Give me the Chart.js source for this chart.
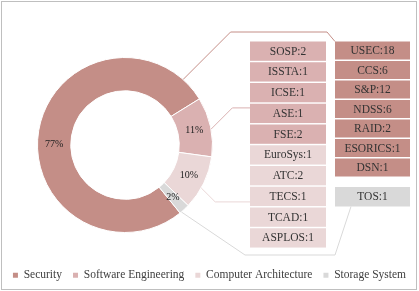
<!DOCTYPE html>
<html>
<head>
<meta charset="utf-8">
<script src="https://cdn.jsdelivr.net/npm/chart.js@4.4.1/dist/chart.umd.min.js"></script>
<style>
  html, body { margin: 0; padding: 0; background: #fff; }
  #wrap { width: 419px; height: 291px; }
</style>
</head>
<body>
<div id="wrap"><canvas id="venueChart" width="419" height="291"></canvas></div>
<script>
// share of papers per field (percent, as printed on the ring)
const categories = ["Security", "Software Engineering", "Computer Architecture", "Storage System"];
const shares = [77, 11, 10, 2];

// venues behind each field, with paper counts
const securityVenues = ["USEC", "CCS", "S&P", "NDSS", "RAID", "ESORICS", "DSN"];
const securityCounts = [18, 6, 12, 6, 2, 1, 1];
const seVenues = ["SOSP", "ISSTA", "ICSE", "ASE", "FSE"];
const seCounts = [2, 1, 1, 1, 2];
const archVenues = ["EuroSys", "ATC", "TECS", "TCAD", "ASPLOS"];
const archCounts = [1, 2, 1, 1, 1];
const storageVenues = ["TOS"];
const storageCounts = [1];

const colors = ["#c48e87", "#dab1b1", "#ead7d7", "#d9d9d9"];
const serif = "'Liberation Serif', 'Times New Roman', serif";

// where along each slice the % label and the leader line sit (0..1)
const labelAt = [0.466, 0.5, 0.5, 0.5];
const leaderAt = [0.94, 0.54, 0.6, 0.85];

// empty layout boxes: push the ring to the left, leave room for the venue panel
function sideBox(position, size) {
  return {
    position: position, options: {}, weight: 0, fullSize: false,
    left: 0, top: 0, right: 0, bottom: 0, width: size, height: 0,
    isHorizontal() { return false; },
    update(maxW, maxH) { this.width = size; this.height = maxH; },
    draw() {}
  };
}

function arcPoint(arc, frac, r) {
  const a = arc.startAngle + (arc.endAngle - arc.startAngle) * frac;
  return { x: arc.x + r * Math.cos(a), y: arc.y + r * Math.sin(a) };
}

function polyline(ctx, pts, color) {
  ctx.beginPath();
  ctx.moveTo(pts[0].x, pts[0].y);
  for (let i = 1; i < pts.length; i++) ctx.lineTo(pts[i].x, pts[i].y);
  ctx.strokeStyle = color;
  ctx.lineWidth = 1;
  ctx.stroke();
}

function venueBox(ctx, x, y, w, h, fill, text) {
  ctx.fillStyle = fill;
  ctx.fillRect(x, y, w, h);
  ctx.fillStyle = "#333";
  ctx.fillText(text, x + w / 2, y + h / 2 + 0.5);
}

const venuePanel = {
  id: "venuePanel",
  beforeInit(chart) {
    chart.$leftBox = sideBox("left", 37);
    chart.$rightBox = sideBox("right", 206);
    Chart.layouts.addBox(chart, chart.$leftBox);
    Chart.layouts.addBox(chart, chart.$rightBox);
  },
  afterDatasetsDraw(chart) {
    const ctx = chart.ctx;
    const arcs = chart.getDatasetMeta(0).data;
    ctx.save();
    ctx.font = "10px " + serif;
    ctx.fillStyle = "#222";
    ctx.textAlign = "center";
    ctx.textBaseline = "middle";
    arcs.forEach((arc, i) => {
      const p = arcPoint(arc, labelAt[i], (arc.innerRadius + arc.outerRadius) / 2);
      ctx.fillText(shares[i] + "%", p.x, p.y);
    });
    ctx.restore();
  },
  afterDraw(chart) {
    const ctx = chart.ctx;
    const arcs = chart.getDatasetMeta(0).data;
    const px = chart.$rightBox.left;
    const col1 = px + 37, col2 = px + 122;
    const w1 = 76, w2 = 75;
    const top = 41.5;
    const pitch1 = 20.75, h1 = 19.3;
    const pitch2 = 19.5, h2 = 18;
    const row1 = (k) => top + k * pitch1;

    ctx.save();
    // leader lines
    const s = arcPoint(arcs[0], leaderAt[0], arcs[0].outerRadius);
    const sy = top - 9.5;
    polyline(ctx, [s, { x: s.x + (s.y - sy), y: sy }, { x: col2 - 8, y: sy }, { x: col2, y: top }], colors[0]);

    const e = arcPoint(arcs[1], leaderAt[1], arcs[1].outerRadius);
    const ey = row1(3.2);
    polyline(ctx, [e, { x: e.x + (e.y - ey), y: ey }, { x: col1, y: ey }], colors[1]);

    const a = arcPoint(arcs[2], leaderAt[2], arcs[2].outerRadius);
    const ay = row1(7.73);
    polyline(ctx, [a, { x: a.x + (ay - a.y), y: ay }, { x: col1, y: ay }], colors[2]);

    const tosTop = top + securityVenues.length * pitch2 + 9;
    const t = arcPoint(arcs[3], leaderAt[3], arcs[3].outerRadius);
    const ty = row1(10) + 6;
    polyline(ctx, [t, { x: col1 - 5, y: ty }, { x: col2, y: ty }, { x: col2 + 16, y: tosTop + h2 + 1.5 }], colors[3]);

    // venue boxes
    ctx.font = "11.5px " + serif;
    ctx.textAlign = "center";
    ctx.textBaseline = "middle";
    seVenues.forEach((v, k) => venueBox(ctx, col1, row1(k), w1, h1, colors[1], v + ":" + seCounts[k]));
    archVenues.forEach((v, k) => venueBox(ctx, col1, row1(k + seVenues.length), w1, h1, colors[2], v + ":" + archCounts[k]));
    securityVenues.forEach((v, k) => venueBox(ctx, col2, top + k * pitch2, w2, h2, colors[0], v + ":" + securityCounts[k]));
    storageVenues.forEach((v, k) => venueBox(ctx, col2, tosTop + k * pitch2, w2, h2 + 1.5, colors[3], v + ":" + storageCounts[k]));

    // outer frame
    ctx.strokeStyle = "#bfbfbf";
    ctx.lineWidth = 1;
    ctx.strokeRect(1.5, 1.5, 415, 288);
    ctx.restore();
  }
};

new Chart(document.getElementById("venueChart"), {
  type: "doughnut",
  data: {
    labels: categories,
    datasets: [
      {
        data: shares,
        backgroundColor: colors,
        borderColor: "#fff",
        borderWidth: 1,
      },
    ],
  },
  options: {
    responsive: false,
    animation: false,
    devicePixelRatio: 1,
    rotation: 141,
    cutout: "62%",
    layout: { padding: { top: 31.5, bottom: 0 } },
    plugins: {
      legend: {
        position: "bottom",
        labels: {
          boxWidth: 5,
          boxHeight: 5,
          padding: 11,
          color: "#404040",
          font: { family: serif, size: 11.5 },
          generateLabels(chart) {
            const items = Chart.overrides.doughnut.plugins.legend.labels.generateLabels(chart);
            items.forEach((it) => { it.lineWidth = 0; });
            return items;
          },
        },
      },
      tooltip: { enabled: false },
    },
  },
  plugins: [venuePanel],
});
</script>
</body>
</html>
